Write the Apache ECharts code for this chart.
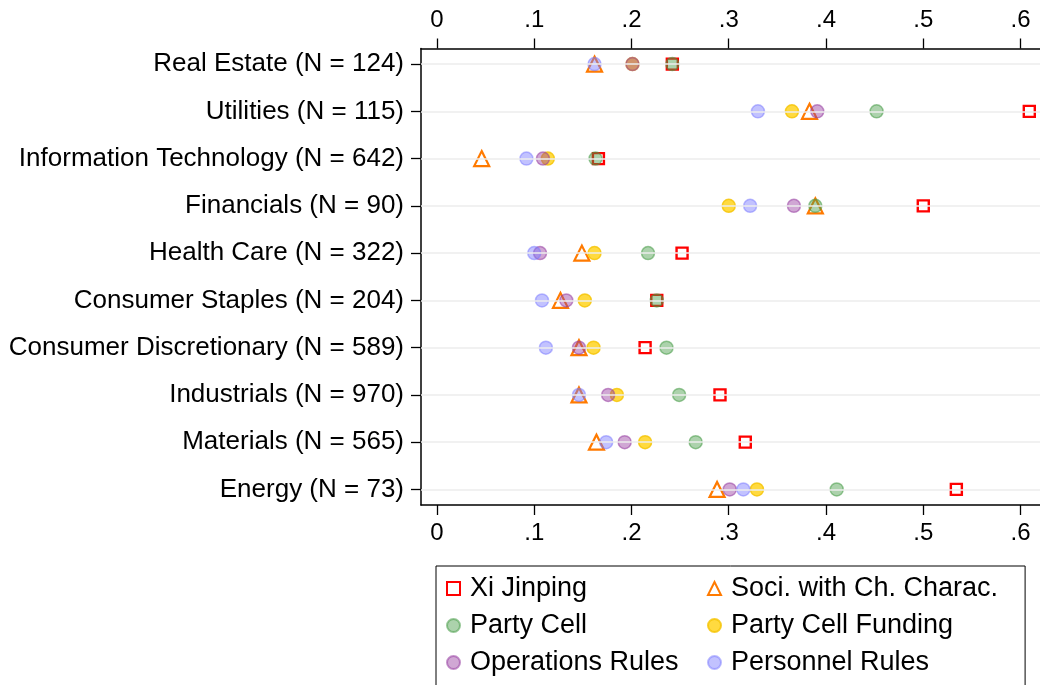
<!DOCTYPE html>
<html>
<head>
<meta charset="utf-8">
<script src="https://cdn.jsdelivr.net/npm/echarts@6/dist/echarts.min.js"></script>
<style>
html,body{margin:0;padding:0;background:#fff;}
#chart{width:1040px;height:685px;}
</style>
</head>
<body>
<div id="chart"></div>
<script>
const categories = ['Real Estate (N = 124)', 'Utilities (N = 115)', 'Information Technology (N = 642)', 'Financials (N = 90)', 'Health Care (N = 322)', 'Consumer Staples (N = 204)', 'Consumer Discretionary (N = 589)', 'Industrials (N = 970)', 'Materials (N = 565)', 'Energy (N = 73)'];
const xiJinping = [0.242, 0.609, 0.166, 0.500, 0.252, 0.226, 0.214, 0.291, 0.317, 0.534];
const sociChChar = [0.162, 0.383, 0.046, 0.389, 0.149, 0.127, 0.146, 0.146, 0.164, 0.288];
const partyCell = [0.242, 0.452, 0.163, 0.389, 0.217, 0.226, 0.236, 0.249, 0.266, 0.411];
const partyCellFunding = [0.201, 0.365, 0.114, 0.300, 0.162, 0.152, 0.161, 0.185, 0.214, 0.329];
const operationsRules = [0.201, 0.391, 0.109, 0.367, 0.106, 0.133, 0.146, 0.176, 0.193, 0.301];
const personnelRules = [0.162, 0.330, 0.092, 0.322, 0.100, 0.108, 0.112, 0.146, 0.174, 0.315];
const xTicks = [0, 0.1, 0.2, 0.3, 0.4, 0.5, 0.6];
const xTickLabels = ['0', '.1', '.2', '.3', '.4', '.5', '.6'];

const FONT = 'Liberation Sans';
const rowIdx = categories.map((c, i) => i);
const toPts = arr => arr.map((v, i) => [v, i]);

function xAxisDef(pos) {
  return {
    type: 'value', position: pos, min: -0.0164, max: 0.62,
    axisLine: {show: true, onZero: false, lineStyle: {color: '#000', width: 1.5}},
    axisTick: {show: true, inside: false, customValues: xTicks, length: 10, lineStyle: {color: '#000', width: 1.3}},
    axisLabel: {show: true, customValues: xTicks, color: '#000', fontFamily: FONT, fontSize: 24, margin: 16,
      formatter: v => { const k = xTicks.findIndex(t => Math.abs(t - v) < 1e-9); return k >= 0 ? xTickLabels[k] : ''; }},
    splitLine: {show: false}
  };
}

const chart = echarts.init(document.getElementById('chart'), null, {renderer: 'canvas'});
const option = {
  animation: false,
  backgroundColor: '#fff',
  grid: {left: 421, right: 0, top: 48.5, bottom: 180, containLabel: false},
  xAxis: [xAxisDef('bottom'), xAxisDef('top')],
  yAxis: {
    type: 'value', inverse: true, min: -0.33, max: 9.33,
    axisLine: {show: true, onZero: false, lineStyle: {color: '#000', width: 1.5}},
    axisTick: {show: true, inside: false, customValues: rowIdx, length: 10, lineStyle: {color: '#000', width: 1.3}},
    axisLabel: {show: true, customValues: rowIdx, color: '#000', fontFamily: FONT, fontSize: 26, margin: 17,
      formatter: v => categories[Math.round(v)] || ''},
    splitLine: {show: false}
  },
  legend: {
    data: ['Xi Jinping', 'Soci. with Ch. Charac.', 'Party Cell', 'Party Cell Funding', 'Operations Rules', 'Personnel Rules'],
    left: 436, top: 566, width: 575, orient: 'horizontal',
    padding: [9, 27, 40, 10],
    itemWidth: 13, itemHeight: 13, itemGap: 10,
    borderColor: '#000', borderWidth: 1,
    textStyle: {color: '#000', fontFamily: FONT, fontSize: 27, width: 227, lineHeight: 27, overflow: 'none', padding: [0, 0, 0, 5]}
  },
  series: [
    {
      name: 'gridlines', type: 'line', data: [], z: 1, silent: true,
      markLine: {silent: true, symbol: ['none', 'none'], label: {show: false},
        lineStyle: {color: '#ececec', width: 1.5, type: 'solid'},
        data: rowIdx.map(i => ({yAxis: i}))}
    },
    {name: 'Xi Jinping', type: 'scatter', data: toPts(xiJinping), symbol: 'rect', symbolSize: 11, z: 3,
      itemStyle: {color: 'rgba(255,255,255,0)', borderColor: '#ff0000', borderWidth: 2.4, opacity: 1}},
    {name: 'Soci. with Ch. Charac.', type: 'scatter', data: toPts(sociChChar), symbol: 'triangle', symbolSize: 15, z: 3,
      itemStyle: {color: 'rgba(255,255,255,0)', borderColor: '#ff7a00', borderWidth: 2.2, opacity: 1}},
    {name: 'Party Cell', type: 'scatter', data: toPts(partyCell), symbol: 'circle', symbolSize: 13, z: 3,
      itemStyle: {color: 'rgba(70,155,70,0.45)', borderColor: 'rgba(70,155,70,0.55)', borderWidth: 1.5, opacity: 1}},
    {name: 'Party Cell Funding', type: 'scatter', data: toPts(partyCellFunding), symbol: 'circle', symbolSize: 13, z: 3,
      itemStyle: {color: 'rgba(255,205,0,0.75)', borderColor: 'rgba(245,195,0,0.8)', borderWidth: 1.5, opacity: 1}},
    {name: 'Operations Rules', type: 'scatter', data: toPts(operationsRules), symbol: 'circle', symbolSize: 13, z: 3,
      itemStyle: {color: 'rgba(150,60,160,0.45)', borderColor: 'rgba(150,60,160,0.55)', borderWidth: 1.5, opacity: 1}},
    {name: 'Personnel Rules', type: 'scatter', data: toPts(personnelRules), symbol: 'circle', symbolSize: 13, z: 3,
      itemStyle: {color: 'rgba(120,120,255,0.45)', borderColor: 'rgba(120,120,255,0.5)', borderWidth: 1.5, opacity: 1}}
  ]
};
chart.setOption(option);
</script>
</body>
</html>
